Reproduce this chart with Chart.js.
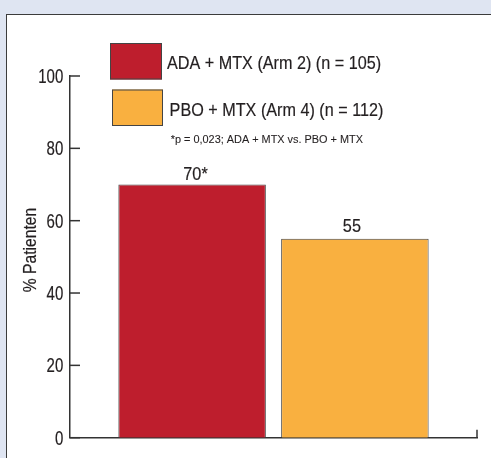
<!DOCTYPE html>
<html>
<head>
<meta charset="utf-8">
<script src="https://cdn.jsdelivr.net/npm/chart.js@4"></script>
<style>
  html, body { margin: 0; padding: 0; background: #DFE5F2; width: 491px; height: 458px; overflow: hidden; }
  #panel { position: absolute; left: 6px; top: 14px; width: 500px; height: 460px; background: #fff;
           border-left: 1.5px solid #3c3c3c; border-top: 1.5px solid #3c3c3c; box-sizing: border-box; }
  #wrap { position: absolute; left: 0; top: 0; width: 491px; height: 458px; }
</style>
</head>
<body>
<div id="panel"></div>
<div id="wrap"><canvas id="c" width="491" height="458"></canvas></div>
<script>
const categories = ['ADA + MTX (Arm 2) (n = 105)', 'PBO + MTX (Arm 4) (n = 112)'];
const positions = [1, 2];
const values = [70, 55];
const valueLabels = ['70*', '55'];
const yTicks = [0, 20, 40, 60, 80, 100];
const footnote = '*p = 0,023; ADA + MTX vs. PBO + MTX';
const yTitle = '% Patienten';
const colors = ['#BE1E2D', '#F9B040'];

const FONT = '"Liberation Sans", Arial, Helvetica, sans-serif';
const INK = '#231F20';

// condensed text: draws real canvas text, squeezed horizontally, slightly emboldened
function condText(ctx, text, x, y, size, sx, align, weight) {
  ctx.save();
  ctx.font = size + 'px ' + FONT;
  ctx.textAlign = align;
  ctx.textBaseline = 'alphabetic';
  ctx.translate(x, y);
  ctx.scale(sx, 1);
  ctx.fillStyle = INK;
  ctx.fillText(text, 0, 0);
  ctx.strokeStyle = INK;
  ctx.lineWidth = weight === undefined ? 0.2 : weight;
  ctx.lineJoin = 'round';
  if (ctx.lineWidth > 0) ctx.strokeText(text, 0, 0);
  ctx.restore();
}

const overlay = {
  id: 'overlay',
  afterDraw(chart) {
    const ctx = chart.ctx;
    const ys = chart.scales.y;
    const area = chart.chartArea;
    ctx.save();
    // inward y ticks + labels
    ys.ticks.forEach(t => {
      const py = ys.getPixelForValue(t.value);
      ctx.strokeStyle = '#333';
      ctx.lineWidth = 1.5;
      ctx.beginPath();
      ctx.moveTo(area.left, py);
      ctx.lineTo(area.left + 10, py);
      ctx.stroke();
      condText(ctx, String(t.value), area.left - 6.7, py + 7, 19.5, 0.77, 'right');
    });
    // right end tick of x axis
    ctx.strokeStyle = '#333';
    ctx.lineWidth = 1.5;
    ctx.beginPath();
    ctx.moveTo(area.right, area.bottom);
    ctx.lineTo(area.right, area.bottom - 8);
    ctx.stroke();
    // value labels
    const meta = chart.getDatasetMeta(0);
    meta.data.forEach((bar, i) => {
      const off = valueLabels[i].includes('*') ? 3.4 : -3;
      condText(ctx, valueLabels[i], bar.x + off, bar.y - (i === 0 ? 5 : 7), 18.5, 0.88, 'center');
    });
    // y title
    ctx.save();
    ctx.translate(35.7, 250);
    ctx.rotate(-Math.PI / 2);
    condText(ctx, yTitle, 0, 0, 18, 0.87, 'center');
    ctx.restore();
    // legend
    const boxes = [[110, 43, 52, 36.5], [112, 89.5, 51, 36.5]];
    const texts = [[167, 68.7], [169.6, 116]];
    categories.forEach((c, i) => {
      const b = boxes[i];
      ctx.fillStyle = colors[i];
      ctx.fillRect(b[0], b[1], b[2], b[3]);
      ctx.strokeStyle = '#444';
      ctx.lineWidth = 1;
      ctx.strokeRect(b[0] + 0.5, b[1] + 0.5, b[2] - 1, b[3] - 1);
      condText(ctx, c, texts[i][0], texts[i][1], 19, 0.852, 'left');
    });
    condText(ctx, footnote, 170.7, 143, 11.6, 0.94, 'left', 0.1);
    ctx.restore();
  }
};

new Chart(document.getElementById('c'), {
  type: 'bar',
  data: {
    datasets: [{
      data: positions.map((p, i) => ({ x: p, y: values[i] })),
      backgroundColor: colors,
      borderColor: '#444',
      borderWidth: 1,
      barPercentage: 0.906,
      categoryPercentage: 1.0
    }]
  },
  options: {
    responsive: false,
    animation: false,
    devicePixelRatio: 1,
    layout: { padding: { top: 76, right: 14, left: 0, bottom: 0 } },
    plugins: { legend: { display: false }, tooltip: { enabled: false } },
    scales: {
      x: {
        type: 'linear',
        offset: false,
        min: 0.25,
        max: 2.75,
        afterBuildTicks: s => { s.ticks = positions.map(v => ({ value: v })); },
        afterFit: s => { s.height = 20.3; },
        ticks: { display: false },
        grid: { display: false, drawTicks: false, offset: false },
        border: { display: true, color: '#333', width: 1.5 }
      },
      y: {
        min: 0,
        max: 100,
        afterFit: s => { s.width = 70; },
        afterBuildTicks: s => { s.ticks = yTicks.map(v => ({ value: v })); },
        ticks: { display: false },
        grid: { display: false, drawTicks: false },
        border: { display: true, color: '#333', width: 1.5 }
      }
    }
  },
  plugins: [overlay]
});
</script>
</body>
</html>
